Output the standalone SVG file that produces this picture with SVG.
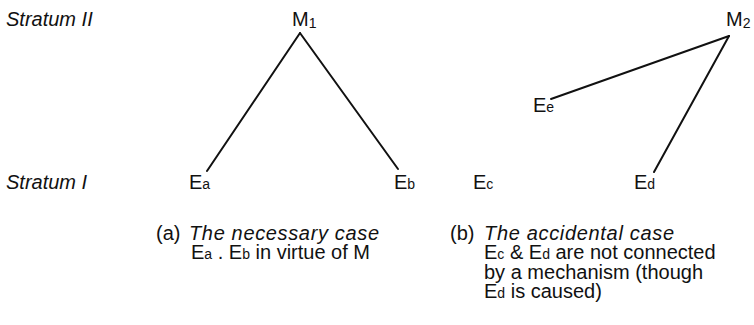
<svg xmlns="http://www.w3.org/2000/svg" width="754" height="325" viewBox="0 0 754 325">
<style>
text{font-family:"Liberation Sans",Arial,Helvetica,sans-serif;font-size:20px;fill:#111}
.it{font-style:italic}
.sub{font-size:14px}
.msub{font-size:14px}
.conn line{stroke:#111;stroke-width:2;stroke-linecap:round}
</style>
<rect width="754" height="325" fill="#fff"/>
<g id="connectors" class="conn">
<line x1="300" y1="33" x2="207" y2="171"/>
<line x1="300" y1="33" x2="398" y2="169"/>
<line x1="729" y1="36" x2="551" y2="99"/>
<line x1="729" y1="36" x2="654" y2="172"/>
</g>
<g id="stratum2"><text class="it" x="6" y="26">Stratum II</text></g>
<g id="stratum1"><text class="it" x="6" y="189">Stratum I</text></g>
<g id="M1"><text x="292" y="26">M<tspan class="msub" dy="2">1</tspan></text></g>
<g id="M2"><text x="726" y="26">M<tspan class="msub" dy="2">2</tspan></text></g>
<g id="Ea"><text x="189" y="189">E<tspan class="sub">a</tspan></text></g>
<g id="Eb"><text x="394" y="189">E<tspan class="sub">b</tspan></text></g>
<g id="Ec"><text x="473" y="189">E<tspan class="sub">c</tspan></text></g>
<g id="Ed"><text x="634" y="189">E<tspan class="sub">d</tspan></text></g>
<g id="Ee"><text x="533" y="112">E<tspan class="sub">e</tspan></text></g>
<g id="caption-a">
<text x="156" y="240">(a)</text>
<text class="it" x="189" y="240" textLength="190">The necessary case</text>
<text x="191" y="259">E<tspan class="sub">a</tspan> . E<tspan class="sub">b</tspan> in virtue of M</text>
</g>
<g id="caption-b">
<text x="450" y="240">(b)</text>
<text class="it" x="484" y="240" textLength="190">The accidental case</text>
<text x="484" y="259">E<tspan class="sub">c</tspan> &amp; E<tspan class="sub">d</tspan> are not connected</text>
<text x="484" y="279">by a mechanism (though</text>
<text x="484" y="298">E<tspan class="sub">d</tspan> is caused)</text>
</g>
</svg>
